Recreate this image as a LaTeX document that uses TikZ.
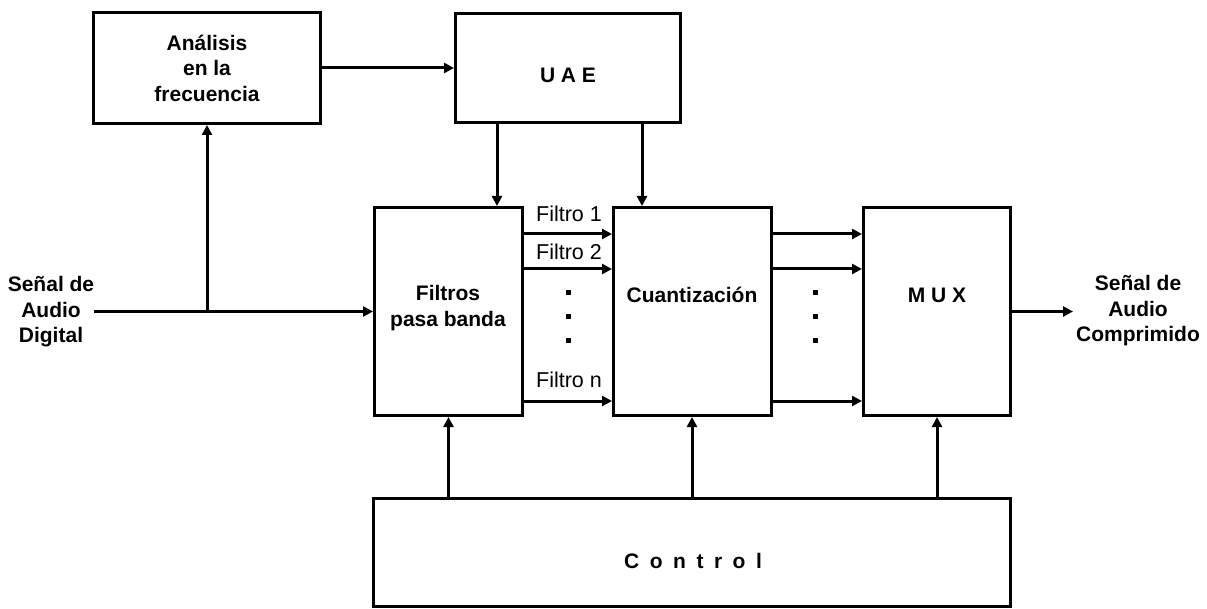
\documentclass[tikz,border=0pt]{standalone}
\usepackage{fontspec}
\setmainfont{Liberation Sans}
\usetikzlibrary{arrows.meta}
\begin{document}
\begin{tikzpicture}[x=1pt,y=-1pt,
  box/.style={draw,line width=3pt,rectangle,inner sep=0pt},
  arr/.style={line width=3pt,-{Triangle[length=10pt,width=10pt]}},
  ln/.style={line width=3pt},
  txt/.style={font=\bfseries\fontsize{21}{25.5}\selectfont,align=center,inner sep=0pt},
  flab/.style={font=\fontsize{21.5}{24}\selectfont,inner sep=0pt},
  sq/.style={fill,minimum size=5pt,inner sep=0pt}]
\useasboundingbox (0,0) rectangle (1207,609);
% boxes
\node[box,minimum width=227pt,minimum height=111pt] (ana) at (207,68) {};
\node[box,minimum width=225pt,minimum height=109pt] (uae) at (568,68) {};
\node[box,minimum width=148pt,minimum height=208pt] (filt) at (448.5,311.5) {};
\node[box,minimum width=158pt,minimum height=208pt] (cuan) at (692.5,311.5) {};
\node[box,minimum width=147pt,minimum height=208pt] (mux) at (937,311.5) {};
\node[box,minimum width=637pt,minimum height=108pt] (ctrl) at (692,552.5) {};
% box texts
\node[txt] (anaT) at (207,68) {Análisis\\en la\\frecuencia};
\node[txt] (uaeT) at (568,75) {U A E};
\node[txt] (filtT) at (448,308) {Filtros\\pasa banda};
\node[txt] (cuanT) at (692,295) {Cuantización};
\node[txt] (muxT) at (937,295) {M U X};
\node[txt] (ctrlT) at (693,561) {C\hspace{10.5pt}o\hspace{10.5pt}n\hspace{10.5pt}t\hspace{10.5pt}r\hspace{10.5pt}o\hspace{10.5pt}l};
\node[txt] (inT) at (51,312) {Señal de\\Audio\\Digital};
\node[txt] (outT) at (1138,311) {Señal de\\Audio\\Comprimido};
% helper coordinates
\coordinate (in) at (94,311.5);
\coordinate (jn) at (207,311.5);
\coordinate (u1) at (497,0);
\coordinate (u2) at (642,0);
\coordinate (r1) at (0,234);
\coordinate (r2) at (0,269);
\coordinate (rn) at (0,401);
\coordinate (c1) at (448.5,0);
\coordinate (c2) at (692,0);
\coordinate (c3) at (937,0);
\coordinate (out) at (1073,311.5);
% connectors
\draw[arr] (ana.east) -- (uae.west);
\draw[arr] (in) -- (filt.west);
\draw[arr] (jn) -- (ana.south);
\draw[arr] (uae.south -| u1) -- (filt.north -| u1);
\draw[arr] (uae.south -| u2) -- (cuan.north -| u2);
\draw[arr] (filt.east |- r1) -- (cuan.west |- r1);
\draw[arr] (filt.east |- r2) -- (cuan.west |- r2);
\draw[arr] (filt.east |- rn) -- (cuan.west |- rn);
\draw[arr] (cuan.east |- r1) -- (mux.west |- r1);
\draw[arr] (cuan.east |- r2) -- (mux.west |- r2);
\draw[arr] (cuan.east |- rn) -- (mux.west |- rn);
\draw[arr] (mux.east) -- (out);
\draw[arr] (ctrl.north -| c1) -- (filt.south -| c1);
\draw[arr] (ctrl.north -| c2) -- (cuan.south -| c2);
\draw[arr] (ctrl.north -| c3) -- (mux.south -| c3);
% filter labels
\node[flab] (f1) at (569,214) {Filtro 1};
\node[flab] (f2) at (569,252) {Filtro 2};
\node[flab] (fn) at (569,380) {Filtro n};
% dots
\node[sq] (d1) at (568,293) {};
\node[sq] (d2) at (568,317) {};
\node[sq] (d3) at (568,341) {};
\node[sq] (e1) at (815,293) {};
\node[sq] (e2) at (815,317) {};
\node[sq] (e3) at (815,341) {};
\end{tikzpicture}
\end{document}
